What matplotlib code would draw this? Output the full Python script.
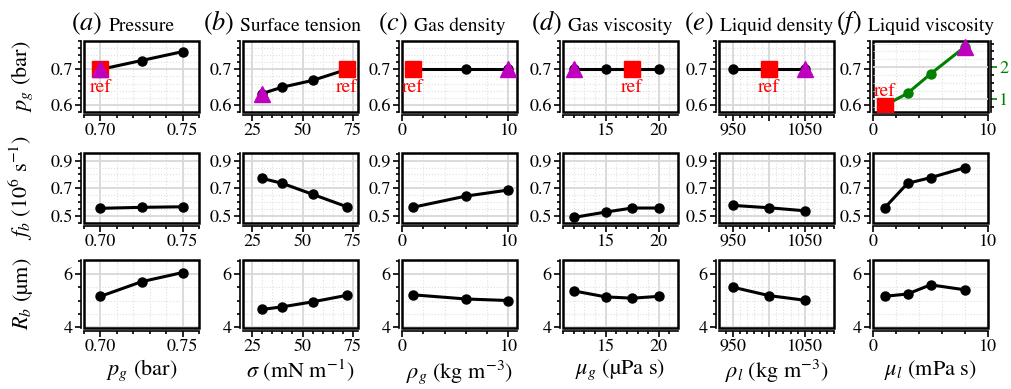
import numpy as np
import matplotlib
matplotlib.use('Agg')
import matplotlib.pyplot as plt
from matplotlib.ticker import MultipleLocator, FixedLocator, FixedFormatter
from matplotlib.patches import Rectangle

plt.rcParams['font.family'] = 'STIXGeneral'
plt.rcParams['mathtext.fontset'] = 'stix'

# swept parameter values (x of each column)
pg_vals = [0.70, 0.725, 0.75]
sigma_vals = [30, 40, 55, 72]
rhog_vals = [1, 6, 10]
mug_vals = [12, 15, 17.5, 20]
rhol_vals = [950, 1000, 1050]
mul_vals = [1, 3, 5, 8]

# row 1: gas pressure p_g (bar)
pg_pg = [0.70, 0.725, 0.75]
pg_sigma = [0.632, 0.650, 0.669, 0.70]
pg_rhog = [0.70, 0.70, 0.70]
pg_mug = [0.70, 0.70, 0.70, 0.70]
pg_rhol = [0.70, 0.70, 0.70]
mul_right = [0.79, 1.18, 1.79, 2.65]   # green series, right axis of (f)

# row 2: bubbling frequency f_b (1e6 1/s)
fb_pg = [0.556, 0.563, 0.567]
fb_sigma = [0.772, 0.736, 0.657, 0.567]
fb_rhog = [0.563, 0.644, 0.688]
fb_mug = [0.490, 0.529, 0.558, 0.558]
fb_rhol = [0.577, 0.560, 0.538]
fb_mul = [0.558, 0.736, 0.777, 0.849]

# row 3: bubble radius R_b (um)
rb_pg = [5.16, 5.72, 6.07]
rb_sigma = [4.66, 4.76, 4.95, 5.20]
rb_rhog = [5.22, 5.06, 5.00]
rb_mug = [5.37, 5.14, 5.09, 5.16]
rb_rhol = [5.51, 5.19, 5.01]
rb_mul = [5.16, 5.25, 5.60, 5.41]

letters = ['$(a)$', '$(b)$', '$(c)$', '$(d)$', '$(e)$', '$(f)$']
titles = ['Pressure', 'Surface tension', 'Gas density', 'Gas viscosity',
          'Liquid density', 'Liquid viscosity']
xlabels = [r'$p_g$ (bar)', r'$\sigma$ (mN m$^{-1}$)', r'$\rho_g$ (kg m$^{-3}$)',
           r'$\mu_g$ (µPa s)', r'$\rho_l$ (kg m$^{-3}$)', r'$\mu_l$ (mPa s)']
ylabels = [r'$p_g$ (bar)', r'$f_b$ (10$^6$ s$^{-1}$)', r'$R_b$ (µm)']

xs = [pg_vals, sigma_vals, rhog_vals, mug_vals, rhol_vals, mul_vals]
rows = [[pg_pg, pg_sigma, pg_rhog, pg_mug, pg_rhol, None],
        [fb_pg, fb_sigma, fb_rhog, fb_mug, fb_rhol, fb_mul],
        [rb_pg, rb_sigma, rb_rhog, rb_mug, rb_rhol, rb_mul]]
ref_idx = [0, 3, 0, 2, 1, 0]
tri_idx = [0, 0, 2, 0, 2, 3]

xlims = [(0.69, 0.76), (20.5, 77.5), (0, 10.8), (11, 21.8), (931, 1090), (0, 10)]
xmajor = [[0.70, 0.75], [25, 50, 75], [0, 10], [15, 20], [950, 1000, 1050], [0, 10]]
xmajlab = [['0.70', '0.75'], ['25', '50', '75'], ['0', '10'], ['15', '20'],
           ['950', '', '1050'], ['0', '10']]
xminor = [0.01, 5, 2, 1, 10, 2]
ylims = [(0.58, 0.78), (0.45, 0.955), (3.95, 6.55)]
ymajor = [[0.6, 0.7], [0.5, 0.7, 0.9], [4, 6]]
ylab = [['0.6', '0.7'], ['0.5', '0.7', '0.9'], ['4', '6']]
yminor = [0.02, 0.05, 0.5]

W, H = 1011, 389
lefts = [84, 243, 402, 563, 719, 873]
aw = 115
tops = [41, 153, 260]
bots = [112, 223, 328]

fig = plt.figure(figsize=(W/100, H/100), dpi=100)


def style(ax, xi, ri):
    ax.set_xlim(*xlims[xi])
    ax.set_ylim(*ylims[ri])
    ax.xaxis.set_major_locator(FixedLocator(xmajor[xi]))
    ax.xaxis.set_major_formatter(FixedFormatter(xmajlab[xi]))
    ax.xaxis.set_minor_locator(MultipleLocator(xminor[xi]))
    ax.yaxis.set_major_locator(FixedLocator(ymajor[ri]))
    ax.yaxis.set_major_formatter(FixedFormatter(ylab[ri]))
    ax.yaxis.set_minor_locator(MultipleLocator(yminor[ri]))
    ax.tick_params(which='both', direction='out', labelsize=13, width=1.2, pad=1.5)
    ax.tick_params(which='major', length=4.5)
    ax.tick_params(which='minor', length=2.5)
    ax.grid(which='major', color='#d8d8d8', lw=1.3)
    ax.grid(which='minor', color='#e0e0e0', lw=0.8, ls=':')
    ax.set_axisbelow(True)
    for s in ['top', 'right']:
        ax.spines[s].set_visible(False)
    for s in ['left', 'bottom']:
        ax.spines[s].set_position(('outward', 2))
        ax.spines[s].set_linewidth(1.2)
    ax.add_patch(Rectangle((0, 0), 1, 1, transform=ax.transAxes, fill=False,
                           ec='k', lw=1.8, clip_on=False, zorder=2.5))


for ri in range(3):
    for ci in range(6):
        ax = fig.add_axes([lefts[ci]/W, 1 - bots[ri]/H, aw/W, (bots[ri] - tops[ri])/H])
        style(ax, ci, ri)
        x = xs[ci]
        y = rows[ri][ci]
        if ri == 0:
            t = ax.set_title(titles[ci], fontsize=14, pad=7)
            ax.annotate(letters[ci], xy=(0, 0), xycoords=t, xytext=(-4, -1),
                        textcoords='offset points', ha='right', va='bottom',
                        fontsize=19)
        if ri == 0 and ci < 5:
            ax.plot(x, y, '-o', color='k', lw=2.2, ms=6.5, zorder=3)
            ax.plot(x[ref_idx[ci]], y[ref_idx[ci]], 's', color='r', ms=11, zorder=4)
            ax.plot(x[tri_idx[ci]], y[tri_idx[ci]], '^', color='#bf00bf', ms=11, zorder=5)
            ax.annotate('ref', (x[ref_idx[ci]], y[ref_idx[ci]]), xytext=(0, -6.5),
                        textcoords='offset points', ha='center', va='top',
                        color='r', fontsize=14, zorder=6, annotation_clip=False)
        elif ri == 0:
            ax.grid(False, axis='y', which='both')
            tw = ax.twinx()
            tw.set_ylim(0.59, 2.83)
            tw.plot(x, mul_right, '-o', color='g', lw=2.2, ms=6.5, zorder=3)
            tw.plot(x[ref_idx[ci]], mul_right[ref_idx[ci]], 's', color='r', ms=11, zorder=4)
            tw.plot(x[tri_idx[ci]], mul_right[tri_idx[ci]], '^', color='#bf00bf', ms=11,
                    zorder=5, clip_on=False)
            tw.annotate('ref', (x[ref_idx[ci]], mul_right[ref_idx[ci]]), xytext=(0, 4),
                        textcoords='offset points', ha='center', va='bottom',
                        color='r', fontsize=14)
            tw.yaxis.set_major_locator(FixedLocator([1, 2]))
            tw.yaxis.set_minor_locator(MultipleLocator(0.25))
            tw.tick_params(which='both', direction='out', labelsize=13, width=1.2, pad=1.5)
            tw.tick_params(which='major', length=4.5, color='g', labelcolor='g')
            tw.tick_params(which='minor', length=2.5)
            tw.grid(which='major', axis='y', color='#d8d8d8', lw=1.3)
            tw.grid(which='minor', axis='y', color='#e0e0e0', lw=0.8, ls=':')
            tw.set_axisbelow(True)
            for s in ['top', 'left', 'bottom']:
                tw.spines[s].set_visible(False)
            tw.spines['right'].set_position(('outward', 2))
            tw.spines['right'].set_linewidth(1.2)
        else:
            ax.plot(x, y, '-o', color='k', lw=2.2, ms=6.5, zorder=3)
        if ri == 2:
            ax.set_xlabel(xlabels[ci], fontsize=16, labelpad=2)
        if ci == 0:
            ax.set_ylabel(ylabels[ri], fontsize=16)
            ax.yaxis.set_label_coords(-0.43, 0.5)

fig.savefig('out.png', dpi=100)
